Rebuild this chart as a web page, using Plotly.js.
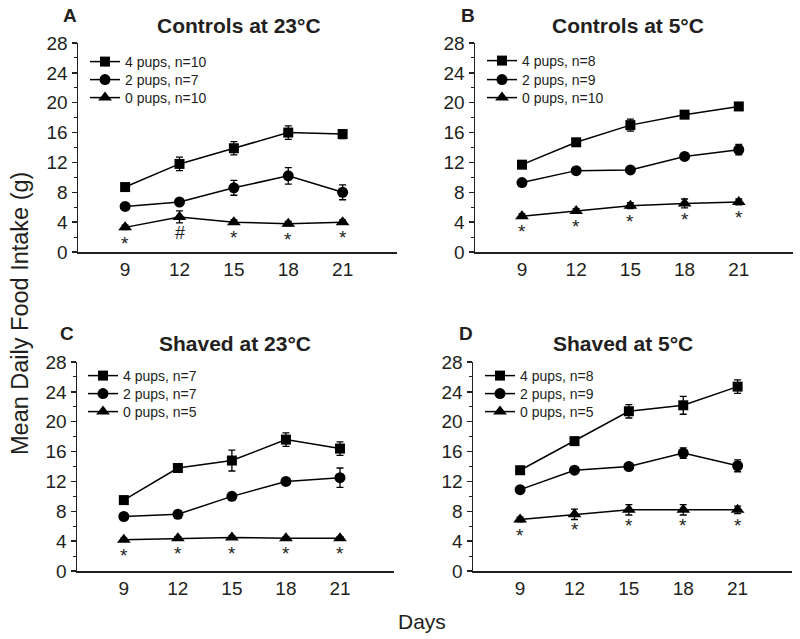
<!DOCTYPE html>
<html>
<head>
<meta charset="utf-8">
<script src="https://cdn.plot.ly/plotly-3.0.1.min.js"></script>
<style>html,body{margin:0;padding:0;background:#fff;}#chart{width:800px;height:639px;}</style>
</head>
<body>
<div id="chart"></div>
<script>
// ---- Data ----
const days = [9, 12, 15, 18, 21];

// Panel A: Controls at 23°C
const ctrl23_4 = [8.7, 11.8, 13.9, 16.0, 15.8];
const ctrl23_4_err = [0.3, 0.9, 0.9, 0.9, 0.6];
const ctrl23_2 = [6.1, 6.7, 8.6, 10.2, 8.0];
const ctrl23_2_err = [0.3, 0.3, 1.0, 1.1, 1.0];
const ctrl23_0 = [3.3, 4.7, 4.0, 3.8, 4.0];
const ctrl23_0_err = [0.3, 0.8, 0.3, 0.3, 0.3];
const ctrl23_names = ['4 pups, n=10', '2 pups, n=7', '0 pups, n=10'];
const ctrl23_sig = ['*', '#', '*', '*', '*'];

// Panel B: Controls at 5°C
const ctrl5_4 = [11.7, 14.7, 17.0, 18.4, 19.5];
const ctrl5_4_err = [0.3, 0.4, 0.8, 0.4, 0.4];
const ctrl5_2 = [9.3, 10.9, 11.0, 12.8, 13.7];
const ctrl5_2_err = [0.3, 0.3, 0.3, 0.3, 0.7];
const ctrl5_0 = [4.8, 5.5, 6.2, 6.5, 6.7];
const ctrl5_0_err = [0.3, 0.3, 0.4, 0.6, 0.4];
const ctrl5_names = ['4 pups, n=8', '2 pups, n=9', '0 pups, n=10'];
const ctrl5_sig = ['*', '*', '*', '*', '*'];

// Panel C: Shaved at 23°C
const shav23_4 = [9.5, 13.8, 14.8, 17.6, 16.4];
const shav23_4_err = [0.3, 0.3, 1.4, 0.9, 0.9];
const shav23_2 = [7.3, 7.6, 10.0, 12.0, 12.5];
const shav23_2_err = [0.3, 0.5, 0.3, 0.3, 1.3];
const shav23_0 = [4.2, 4.4, 4.5, 4.4, 4.4];
const shav23_0_err = [0.2, 0.2, 0.2, 0.2, 0.2];
const shav23_names = ['4 pups, n=7', '2 pups, n=7', '0 pups, n=5'];
const shav23_sig = ['*', '*', '*', '*', '*'];

// Panel D: Shaved at 5°C
const shav5_4 = [13.5, 17.4, 21.4, 22.2, 24.7];
const shav5_4_err = [0.3, 0.4, 0.9, 1.2, 0.9];
const shav5_2 = [10.9, 13.5, 14.0, 15.8, 14.1];
const shav5_2_err = [0.3, 0.3, 0.3, 0.7, 0.8];
const shav5_0 = [6.9, 7.6, 8.2, 8.2, 8.2];
const shav5_0_err = [0.3, 0.7, 0.7, 0.7, 0.5];
const shav5_names = ['4 pups, n=8', '2 pups, n=9', '0 pups, n=5'];
const shav5_sig = ['*', '*', '*', '*', '*'];

const panelTitles = ['Controls at 23°C', 'Controls at 5°C', 'Shaved at 23°C', 'Shaved at 5°C'];
const panelLetters = ['A', 'B', 'C', 'D'];
const yTicks = [0, 4, 8, 12, 16, 20, 24, 28];

// ---- Build ----
const FONT = 'Liberation Sans, Arial, sans-serif';
const INK = '#231f20';
const symbols = ['square', 'circle', 'triangle-up'];
const sizes = [10, 11, 12];
const H = 639, W = 800;
const py = v => 1 - v / H;   // pixel row -> paper y
const px = v => v / W;       // pixel col -> paper x

const panels = [
  {s: [ctrl23_4, ctrl23_2, ctrl23_0], e: [ctrl23_4_err, ctrl23_2_err, ctrl23_0_err], n: ctrl23_names, sig: ctrl23_sig},
  {s: [ctrl5_4, ctrl5_2, ctrl5_0], e: [ctrl5_4_err, ctrl5_2_err, ctrl5_0_err], n: ctrl5_names, sig: ctrl5_sig},
  {s: [shav23_4, shav23_2, shav23_0], e: [shav23_4_err, shav23_2_err, shav23_0_err], n: shav23_names, sig: shav23_sig},
  {s: [shav5_4, shav5_2, shav5_0], e: [shav5_4_err, shav5_2_err, shav5_0_err], n: shav5_names, sig: shav5_sig}
];

const xDomains = [[px(78), px(397)], [px(475), px(793)], [px(77), px(394)], [px(473), px(792)]];
const yDomains = [[py(252), py(43)], [py(252), py(43)], [py(571), py(362)], [py(571), py(362)]];
const legendX = [px(85), px(482), px(83), px(480)];
const legendRows = [[62, 80, 98], [61, 80, 98], [376, 394, 412], [376, 394, 412]];
const titlePos = [[239, 25], [628, 25], [235, 343], [623, 343]];
const letterPos = [[70, 15], [468, 15], [67, 333], [466, 333]];

const traces = [];
const layout = {
  width: W, height: H,
  margin: {l: 0, r: 0, t: 0, b: 0},
  paper_bgcolor: '#fff', plot_bgcolor: '#fff',
  font: {family: FONT, color: INK},
  annotations: [],
  showlegend: true
};

let legIdx = 0;
panels.forEach((p, i) => {
  const k = i + 1;
  const xa = k === 1 ? 'x' : 'x' + k;
  const ya = k === 1 ? 'y' : 'y' + k;
  p.s.forEach((vals, j) => {
    legIdx += 1;
    const lg = legIdx === 1 ? 'legend' : 'legend' + legIdx;
    traces.push({
      type: 'scatter', mode: 'lines+markers',
      x: days, y: vals, name: p.n[j],
      xaxis: xa, yaxis: ya, legend: lg,
      line: {color: '#000', width: 1.5},
      marker: {symbol: symbols[j], size: sizes[j], color: '#000'},
      error_y: {type: 'data', array: p.e[j], visible: true, color: '#000', thickness: 1.3, width: 3.5},
      cliponaxis: false
    });
    layout[lg] = {
      x: legendX[i], y: py(legendRows[i][j]), xanchor: 'left', yanchor: 'middle',
      bgcolor: 'rgba(0,0,0,0)', font: {size: 14, family: FONT, color: INK},
      itemwidth: 30
    };
  });
  layout['xaxis' + (k === 1 ? '' : k)] = {
    domain: xDomains[i], anchor: ya, range: [6.4, 24],
    tickvals: days, ticktext: days.map(String), ticks: '',
    showline: true, linecolor: INK, linewidth: 1.5,
    showgrid: false, zeroline: false,
    tickfont: {size: 19, family: FONT, color: INK}
  };
  layout['yaxis' + (k === 1 ? '' : k)] = {
    domain: yDomains[i], anchor: xa, range: [0, 28],
    tickvals: yTicks, ticks: 'outside', ticklen: 5, tickwidth: 1.3, tickcolor: INK,
    minor: {tickvals: [2, 6, 10, 14, 18, 22, 26], ticks: 'outside', ticklen: 3, tickwidth: 1, tickcolor: INK},
    showline: true, linecolor: INK, linewidth: 1.5,
    showgrid: false, zeroline: false,
    tickfont: {size: 19, family: FONT, color: INK}
  };
  // panel title
  layout.annotations.push({
    xref: 'paper', yref: 'paper',
    x: px(titlePos[i][0]), y: py(titlePos[i][1]),
    xanchor: 'center', yanchor: 'middle', showarrow: false,
    text: '<b>' + panelTitles[i] + '</b>', font: {size: 21, family: FONT, color: INK}
  });
  // panel letter
  layout.annotations.push({
    xref: 'paper', yref: 'paper',
    x: px(letterPos[i][0]), y: py(letterPos[i][1]),
    xanchor: 'center', yanchor: 'middle', showarrow: false,
    text: '<b>' + panelLetters[i] + '</b>', font: {size: 19, family: FONT, color: INK}
  });
  // significance marks below lowest series
  const low = p.s[2];
  p.sig.forEach((t, d) => {
    const isHash = t === '#';
    layout.annotations.push({
      xref: xa, yref: ya, x: days[d], y: low[d] - (isHash ? 2.2 : 2.1),
      xanchor: 'center', yanchor: 'middle', showarrow: false,
      text: t, font: {size: isHash ? 18 : 19, family: FONT, color: INK}
    });
  });
});

// global axis titles
layout.annotations.push({
  xref: 'paper', yref: 'paper', x: px(20), y: py(314), textangle: -90,
  xanchor: 'center', yanchor: 'middle', showarrow: false,
  text: 'Mean Daily Food Intake (g)', font: {size: 23.5, family: FONT, color: INK}
});
layout.annotations.push({
  xref: 'paper', yref: 'paper', x: px(422), y: py(621),
  xanchor: 'center', yanchor: 'middle', showarrow: false,
  text: 'Days', font: {size: 21, family: FONT, color: INK}
});

Plotly.newPlot('chart', traces, layout, {displayModeBar: false, staticPlot: true});
</script>
</body>
</html>
